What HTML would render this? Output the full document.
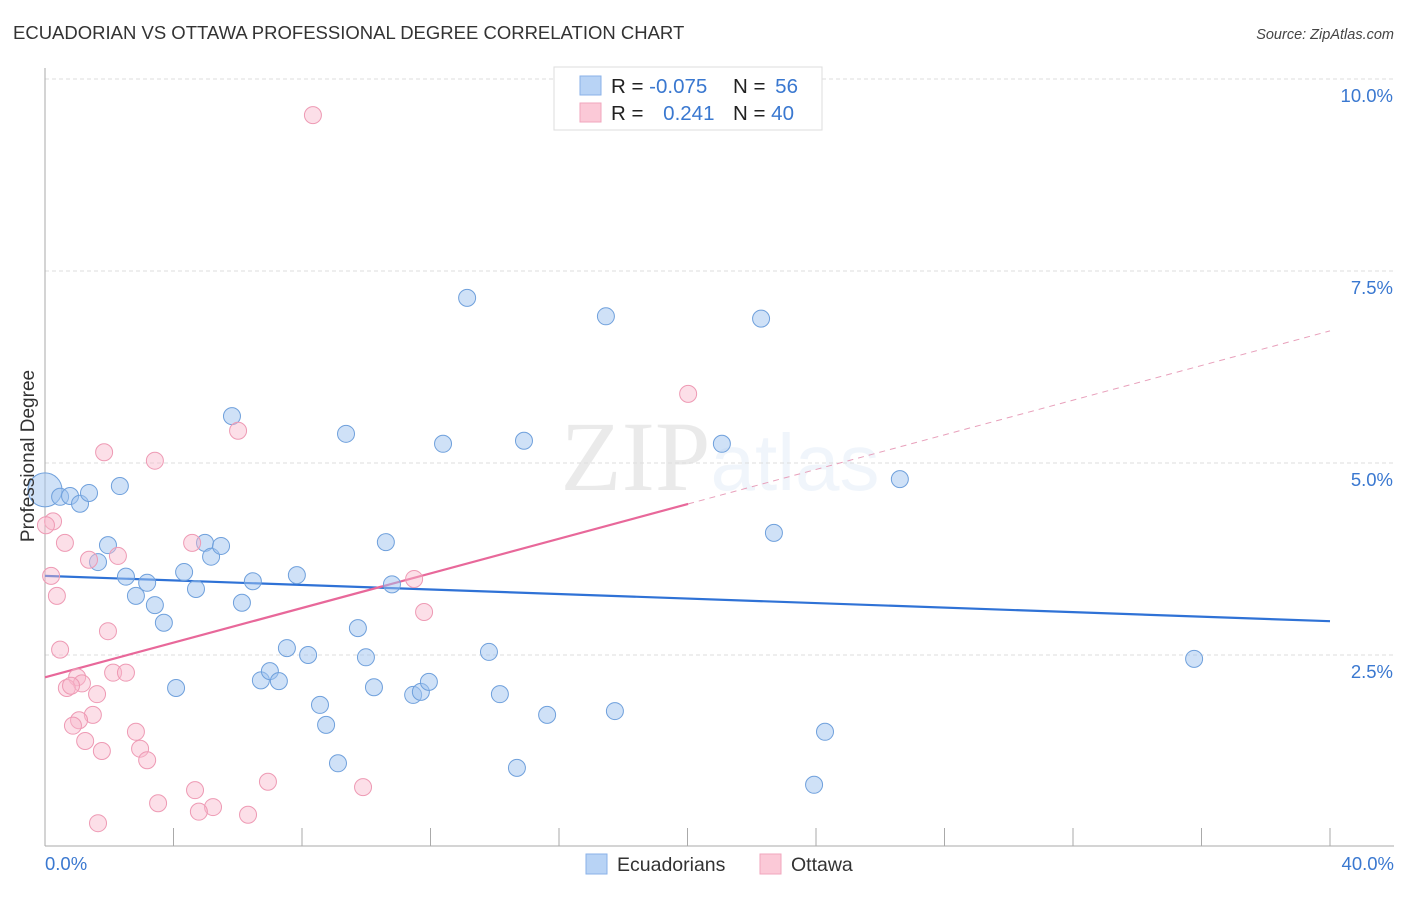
<!DOCTYPE html>
<html><head><meta charset="utf-8"><style>
body{margin:0;background:#fff;font-family:"Liberation Sans",sans-serif;}
svg text{font-family:"Liberation Sans",sans-serif;}
</style></head><body>
<svg id="chart" width="1406" height="892" xmlns="http://www.w3.org/2000/svg">
<text x="13" y="39" font-size="18.5" fill="#333">ECUADORIAN VS OTTAWA PROFESSIONAL DEGREE CORRELATION CHART</text>
<text x="1394" y="39" font-size="14.5" fill="#444" text-anchor="end" font-style="italic">Source: ZipAtlas.com</text>
<text x="720" y="490" font-size="100" text-anchor="middle" fill="#000" opacity="0.08"><tspan font-family="Liberation Serif">ZIP</tspan><tspan fill="#4a8ad0" opacity="1.0" font-size="80">atlas</tspan></text>
<g id="grid"></g>
<g id="axes"></g>
<g id="lines"></g>
<g id="pts"></g>
<text transform="translate(34,456) rotate(-90)" font-size="19" fill="#333" text-anchor="middle">Professional Degree</text>
<g>
<rect x="554" y="67" width="268" height="63" fill="#fff" stroke="#ddd"/>
<rect x="580" y="76" width="21" height="19" fill="#b8d3f5" stroke="#8ab2e8"/>
<rect x="580" y="103" width="21" height="19" fill="#fbc9d7" stroke="#f0a6bd"/>
<text x="611" y="93" font-size="20.5" fill="#222">R = <tspan fill="#3a78d0">-0.075</tspan></text>
<text x="733" y="93" font-size="20.5" fill="#222">N = <tspan fill="#3a78d0" dx="4">56</tspan></text>
<text x="611" y="120" font-size="20.5" fill="#222">R = <tspan fill="#3a78d0" dx="14">0.241</tspan></text>
<text x="733" y="120" font-size="20.5" fill="#222">N = <tspan fill="#3a78d0">40</tspan></text>
</g>
<g>
<rect x="586" y="854" width="21" height="20" fill="#b8d3f5" stroke="#8ab2e8"/>
<text x="617" y="871" font-size="19.5" fill="#333">Ecuadorians</text>
<rect x="760" y="854" width="21" height="20" fill="#fbc9d7" stroke="#f0a6bd"/>
<text x="791" y="871" font-size="19.5" fill="#333">Ottawa</text>
</g>
</svg>
<script>
const ns="http://www.w3.org/2000/svg";
const yTicks=[2.5,5.0,7.5,10.0];
const yTickLabels=["2.5%","5.0%","7.5%","10.0%"];
const xTicks=[0,4,8,12,16,20,24,28,32,36,40];
const xEndLabels=["0.0%","40.0%"];
const blueX=[0.0,0.47,0.78,1.09,1.37,2.33,1.96,1.65,2.52,3.18,2.83,3.42,3.70,4.08,4.33,4.70,4.98,5.17,5.48,5.82,6.13,6.47,6.72,7.00,7.28,7.53,7.84,8.19,8.56,8.75,9.12,9.37,9.74,9.99,10.24,10.61,10.80,11.46,11.70,11.95,12.39,13.14,13.82,14.16,14.69,14.91,15.63,17.46,17.74,21.07,22.29,22.69,23.94,24.28,26.61,35.77];
const blueY=[4.65,4.56,4.57,4.47,4.61,4.70,3.93,3.71,3.52,3.44,3.27,3.15,2.92,2.07,3.58,3.36,3.96,3.78,3.92,5.61,3.18,3.46,2.17,2.29,2.16,2.59,3.54,2.50,1.85,1.59,1.09,5.38,2.85,2.47,2.08,3.97,3.42,1.98,2.02,2.15,5.25,7.15,2.54,1.99,1.03,5.29,1.72,6.91,1.77,5.25,6.88,4.09,0.81,1.50,4.79,2.45];
const pinkX=[8.34,20.02,6.01,1.84,3.42,0.25,0.03,0.62,4.58,2.27,1.37,0.19,11.49,0.37,11.80,1.96,0.47,2.12,2.52,1.00,1.15,0.68,0.81,1.62,1.49,1.06,0.87,2.83,1.25,2.96,1.77,3.18,6.94,4.67,9.90,3.52,5.23,4.79,6.32,1.65];
const pinkY=[9.53,5.90,5.42,5.14,5.03,4.24,4.19,3.96,3.96,3.79,3.74,3.53,3.49,3.27,3.06,2.81,2.57,2.27,2.27,2.21,2.13,2.07,2.10,1.99,1.72,1.65,1.58,1.50,1.38,1.28,1.25,1.13,0.85,0.74,0.78,0.57,0.52,0.46,0.42,0.31];
const blueTrend=[3.53,2.94];
const pinkTrend=[2.21,6.72];
const pinkSolidEnd=20.02;
const X=v=>45+v*32.125, Y=v=>847-v*76.8;
function mk(t,a,p){const e=document.createElementNS(ns,t);for(const k in a)e.setAttribute(k,a[k]);p.appendChild(e);return e;}
const grid=document.getElementById('grid'),axes=document.getElementById('axes'),lines=document.getElementById('lines'),pts=document.getElementById('pts');
yTicks.forEach((t,i)=>{
 const l=mk('line',{x1:45,x2:1394,y1:Y(t),y2:Y(t),stroke:'#ddd','stroke-dasharray':'4,3'},grid);
 
 
 const tx=mk('text',{x:1393,y:Y(t)+23,'font-size':18.5,fill:'#3a78d0','text-anchor':'end'},grid);
 tx.textContent=yTickLabels[i];
 
 
});
const ya=mk('line',{x1:45,x2:45,y1:68,y2:846,stroke:'#aaa'},axes);


const xa=mk('line',{x1:45,x2:1394,y1:846,y2:846,stroke:'#aaa'},axes);


xTicks.forEach(t=>{
 const l=mk('line',{x1:X(t),x2:X(t),y1:828,y2:846,stroke:'#aaa'},axes);
 
 
});
[[0,'start',45],[40,'end',1394]].forEach((d,i)=>{
 const tx=mk('text',{x:d[2],y:870,'font-size':18.5,fill:'#3a78d0','text-anchor':d[1]},axes);
 tx.textContent=xEndLabels[i];
 
 
});
blueX.forEach((x,i)=>{
 const c=mk('circle',{cx:X(x),cy:Y(blueY[i]),r:i===0?17:8.5,fill:'rgba(160,196,240,0.5)',stroke:'#6fa0dc','stroke-width':1},pts);
 
 
});
pinkX.forEach((x,i)=>{
 const c=mk('circle',{cx:X(x),cy:Y(pinkY[i]),r:8.5,fill:'rgba(248,185,205,0.45)',stroke:'#ee9ab4','stroke-width':1},pts);
 
 
});
const bl=mk('line',{x1:X(0),y1:Y(blueTrend[0]),x2:X(40),y2:Y(blueTrend[1]),stroke:'#2f72d6','stroke-width':2.2},lines);


const pAt=x=>pinkTrend[0]+(pinkTrend[1]-pinkTrend[0])*x/40;
const pl=mk('line',{x1:X(0),y1:Y(pAt(0)),x2:X(pinkSolidEnd),y2:Y(pAt(pinkSolidEnd)),stroke:'#e8689a','stroke-width':2.2},lines);


const pd=mk('line',{x1:X(pinkSolidEnd),y1:Y(pAt(pinkSolidEnd)),x2:X(40),y2:Y(pAt(40)),stroke:'#e8a0bb','stroke-width':1,'stroke-dasharray':'6,5'},lines);


</script>
</body></html>
